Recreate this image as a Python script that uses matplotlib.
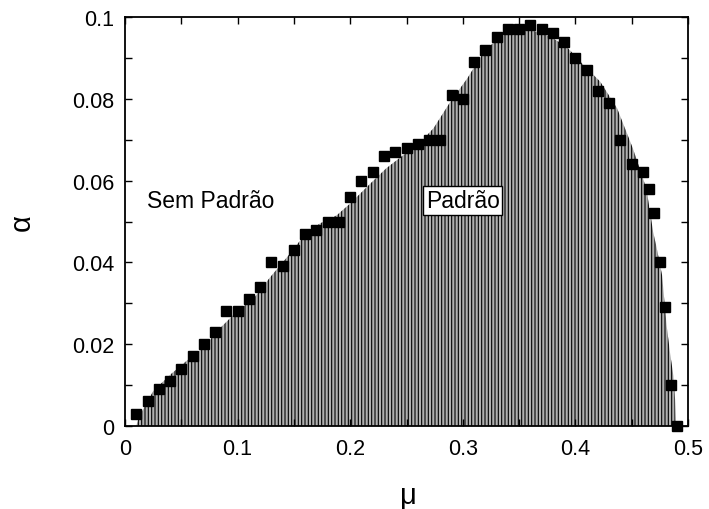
import matplotlib
matplotlib.use("Agg")
import matplotlib.pyplot as plt
from matplotlib.ticker import MultipleLocator

# Marker data (squares)
mu_pts = [0.01, 0.02, 0.03, 0.04, 0.05, 0.06, 0.07, 0.08, 0.09, 0.10,
          0.11, 0.12, 0.13, 0.14, 0.15, 0.16, 0.17, 0.18, 0.19, 0.20,
          0.21, 0.22, 0.23, 0.24, 0.25, 0.26, 0.27, 0.28, 0.29, 0.30,
          0.31, 0.32, 0.33, 0.34, 0.35, 0.36, 0.37, 0.38, 0.39, 0.40,
          0.41, 0.42, 0.43, 0.44, 0.45, 0.46, 0.465, 0.47, 0.475, 0.48,
          0.485, 0.49]
alpha_pts = [0.003, 0.006, 0.009, 0.011, 0.014, 0.017, 0.020, 0.023, 0.028, 0.028,
             0.031, 0.034, 0.040, 0.039, 0.043, 0.047, 0.048, 0.050, 0.050, 0.056,
             0.060, 0.062, 0.066, 0.067, 0.068, 0.069, 0.070, 0.070, 0.081, 0.080,
             0.089, 0.092, 0.095, 0.097, 0.097, 0.098, 0.097, 0.096, 0.094, 0.090,
             0.087, 0.082, 0.079, 0.070, 0.064, 0.062, 0.058, 0.052, 0.040, 0.029,
             0.010, 0.000]

# Boundary of the "Padrão" region (hatched)
mu_bound = [0.010, 0.012, 0.025, 0.040, 0.055, 0.070, 0.084, 0.099, 0.114, 0.129,
            0.144, 0.158, 0.173, 0.188, 0.200, 0.218, 0.232, 0.247, 0.259, 0.274,
            0.289, 0.304, 0.318, 0.333, 0.348, 0.363, 0.377, 0.392, 0.407, 0.422,
            0.437, 0.451, 0.463, 0.469, 0.472, 0.477, 0.481, 0.484, 0.487, 0.4885,
            0.489]
alpha_bound = [0.000, 0.002, 0.0085, 0.0125, 0.0160, 0.0193, 0.0238, 0.0279, 0.0311, 0.0364,
               0.0413, 0.0462, 0.0495, 0.0515, 0.0544, 0.0593, 0.0630, 0.0662, 0.0684, 0.0728,
               0.0793, 0.0850, 0.0912, 0.0953, 0.0965, 0.0966, 0.0953, 0.0928, 0.0883, 0.0842,
               0.0777, 0.0679, 0.0581, 0.0475, 0.0438, 0.0368, 0.0246, 0.0180, 0.0123, 0.0066,
               0.000]

x_ticks = [0, 0.1, 0.2, 0.3, 0.4, 0.5]
x_tick_labels = ["0", "0.1", "0.2", "0.3", "0.4", "0.5"]
y_ticks = [0, 0.02, 0.04, 0.06, 0.08, 0.1]
y_tick_labels = ["0", "0.02", "0.04", "0.06", "0.08", "0.1"]

plt.rcParams['font.family'] = ['Liberation Sans', 'DejaVu Sans']
plt.rcParams['hatch.linewidth'] = 0.8

fig = plt.figure(figsize=(7.09, 5.10), dpi=100)
ax = fig.add_axes([125/709, 1 - 427/510, (688-125)/709, (427-18)/510])

ax.fill_between(mu_bound, 0, alpha_bound, facecolor='#b0b0b0', edgecolor='black',
                hatch='|||||', linewidth=0, zorder=1)
ax.plot(mu_pts, alpha_pts, linestyle='none', marker='s', markersize=7.5,
        color='black', zorder=3, clip_on=False)

ax.set_xlim(0, 0.5)
ax.set_ylim(0, 0.1)
ax.set_xticks(x_ticks)
ax.set_xticklabels(x_tick_labels)
ax.set_yticks(y_ticks)
ax.set_yticklabels(y_tick_labels)
ax.xaxis.set_minor_locator(MultipleLocator(0.05))
ax.yaxis.set_minor_locator(MultipleLocator(0.01))
ax.tick_params(which='both', direction='in', top=True, right=True,
               length=5, width=1, labelsize=15.5)
ax.tick_params(axis='x', pad=9)
ax.tick_params(axis='y', pad=8)
for s in ax.spines.values():
    s.set_linewidth(1.3)

ax.set_xlabel('μ', fontsize=21)
ax.set_ylabel('α', fontsize=21)
ax.xaxis.set_label_coords(0.503, -0.135)
ax.yaxis.set_label_coords(-0.158, 0.50)

ax.text(0.0764, 0.0551, 'Sem Padrão', fontsize=16.5, ha='center', va='center', zorder=4)
ax.text(0.300, 0.0551, 'Padrão', fontsize=16.5, ha='center', va='center', zorder=4,
        bbox=dict(boxstyle='square,pad=0.12', facecolor='white', edgecolor='black', linewidth=1))

fig.savefig('out.png', dpi=100)
